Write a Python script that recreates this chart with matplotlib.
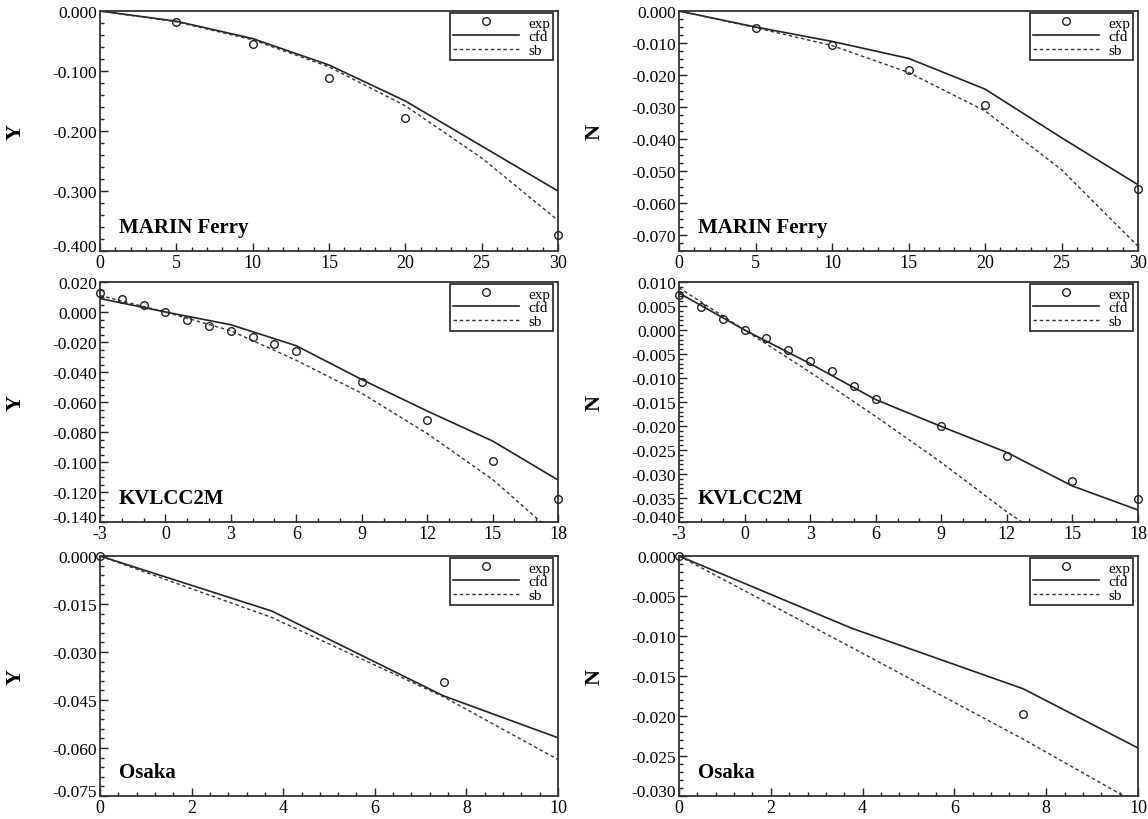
import numpy as np
import matplotlib
matplotlib.use("Agg")
import matplotlib.pyplot as plt
from matplotlib.ticker import MultipleLocator, FuncFormatter
from matplotlib.transforms import ScaledTranslation

plt.rcParams["font.family"] = ["Liberation Serif", "DejaVu Serif"]

# MARIN Ferry
ferry_x = [0, 5, 10, 15, 20, 25, 30]
ferry_exp_x = [5, 10, 15, 20, 30]
ferry_Y_exp = [-0.018, -0.055, -0.111, -0.178, -0.374]
ferry_Y_cfd = [0, -0.017, -0.046, -0.090, -0.150, -0.225, -0.300]
ferry_Y_sb = [0, -0.018, -0.048, -0.093, -0.158, -0.245, -0.349]
ferry_N_exp = [-0.0053, -0.0106, -0.0183, -0.0294, -0.0555]
ferry_N_cfd = [0, -0.0050, -0.0095, -0.0148, -0.0244, -0.0396, -0.0543]
ferry_N_sb = [0, -0.0052, -0.0108, -0.0192, -0.0312, -0.0496, -0.0735]

# KVLCC2M
kv_x = [-3, 0, 3, 6, 9, 12, 15, 18]
kv_exp_x = [-3, -2, -1, 0, 1, 2, 3, 4, 5, 6, 9, 12, 15, 18]
kv_Y_exp = [0.013, 0.0087, 0.0048, 0.0, -0.005, -0.009, -0.0129, -0.0168,
            -0.0213, -0.026, -0.0465, -0.072, -0.099, -0.1247]
kv_Y_cfd = [0.009, 0.0, -0.0085, -0.0225, -0.045, -0.066, -0.086, -0.112]
kv_Y_sb = [0.011, 0.0, -0.0125, -0.0322, -0.0542, -0.081, -0.1116, -0.150]
kv_N_exp = [0.0073, 0.0047, 0.0022, 0.0, -0.0016, -0.0042, -0.0064, -0.0086,
            -0.0116, -0.0143, -0.0199, -0.0262, -0.0315, -0.0352]
kv_N_cfd = [0.0077, 0.0, -0.0070, -0.0145, -0.0201, -0.0255, -0.0325, -0.0375]
kv_N_sb = [0.0088, 0.0, -0.0088, -0.0180, -0.0276, -0.0379, -0.0470, -0.0560]

# Osaka
os_x = [0, 3.75, 7.5, 10]
os_exp_x = [0, 7.5]
os_Y_exp = [0, -0.0393]
os_Y_cfd = [0, -0.0172, -0.0437, -0.0568]
os_Y_sb = [0, -0.0192, -0.0440, -0.0636]
os_N_exp = [0, -0.0197]
os_N_cfd = [0, -0.0090, -0.0166, -0.0240]
os_N_sb = [0, -0.0114, -0.0229, -0.0310]

panels = [
    # name, ylabel, x, exp_x, exp, cfd, sb, xlim, ylim, xmaj, xmin, ymaj, ymin
    ("MARIN Ferry", "Y", ferry_x, ferry_exp_x, ferry_Y_exp, ferry_Y_cfd, ferry_Y_sb,
     (0, 30), (-0.4, 0), 5, 1, 0.1, 0.02),
    ("MARIN Ferry", "N", ferry_x, ferry_exp_x, ferry_N_exp, ferry_N_cfd, ferry_N_sb,
     (0, 30), (-0.075, 0), 5, 1, 0.01, 0.0025),
    ("KVLCC2M", "Y", kv_x, kv_exp_x, kv_Y_exp, kv_Y_cfd, kv_Y_sb,
     (-3, 18), (-0.14, 0.02), 3, 1, 0.02, 0.005),
    ("KVLCC2M", "N", kv_x, kv_exp_x, kv_N_exp, kv_N_cfd, kv_N_sb,
     (-3, 18), (-0.04, 0.01), 3, 1, 0.005, 0.001),
    ("Osaka", "Y", os_x, os_exp_x, os_Y_exp, os_Y_cfd, os_Y_sb,
     (0, 10), (-0.075, 0), 2, 0.4, 0.015, 0.003),
    ("Osaka", "N", os_x, os_exp_x, os_N_exp, os_N_cfd, os_N_sb,
     (0, 10), (-0.03, 0), 2, 0.4, 0.005, 0.001),
]

W, H = 1148, 820
col_x = [(100, 458), (679, 459)]
row_y = [(12, 240), (283, 240), (557, 240)]

fig = plt.figure(figsize=(W / 100, H / 100), dpi=100)


def fmt3(v, pos):
    if abs(v) < 1e-12:
        v = 0.0
    return "%.3f" % v


def fmt_int(v, pos):
    return "%d" % round(v)


axes = []
for i, p in enumerate(panels):
    name, ylab, x, ex, ey, cfd, sb, xlim, ylim, xmaj, xmin, ymaj, ymin = p
    r, c = divmod(i, 2)
    px, pw = col_x[c]
    py, ph = row_y[r]
    ax = fig.add_axes([px / W, 1 - (py + ph) / H, pw / W, ph / H])
    axes.append(ax)

    ax.plot(ex, ey, "o", mfc="none", mec="#222222", ms=5.5, mew=1.0,
            clip_on=False, zorder=5, label="exp")
    ax.plot(x, cfd, "-", color="#222222", lw=1.2, label="cfd")
    ax.plot(x, sb, color="#333333", lw=1.0, ls=(0, (2.5, 2)), label="sb")

    ax.set_xlim(*xlim)
    ax.set_ylim(*ylim)
    ax.xaxis.set_major_locator(MultipleLocator(xmaj))
    ax.xaxis.set_minor_locator(MultipleLocator(xmin))
    ax.yaxis.set_major_locator(MultipleLocator(ymaj))
    ax.yaxis.set_minor_locator(MultipleLocator(ymin))
    ax.yaxis.set_major_formatter(FuncFormatter(fmt3))
    ax.xaxis.set_major_formatter(FuncFormatter(fmt_int))

    ax.tick_params(which="both", direction="in", top=False, right=False,
                   color="#222222", width=1.0)
    ax.tick_params(axis="x", labelsize=13)
    ax.tick_params(axis="y", labelsize=12.5)
    ax.tick_params(which="major", length=6, pad=2)
    ax.tick_params(which="minor", length=3)
    for s in ax.spines.values():
        s.set_linewidth(1.3)
        s.set_color("#333333")

    ax.set_ylabel(ylab, fontsize=16, fontweight="bold", rotation=90)
    ax.yaxis.set_label_coords(-0.162, 0.5)

    ax.text(0.041, 0.1, name, transform=ax.transAxes, fontsize=15,
            fontweight="bold", va="center", ha="left")

    leg = ax.legend(loc="upper right", bbox_to_anchor=(1 - 5 / pw, 1 - 2 / ph),
                    borderaxespad=0, fontsize=11, handlelength=4.3,
                    labelspacing=0.0, borderpad=0.2, handletextpad=0.6,
                    fancybox=False, framealpha=1)
    leg.get_frame().set_edgecolor("#333333")
    leg.get_frame().set_linewidth(1.3)

# lift the lowest y label a little so it clears the first x label
fig.canvas.draw()
for ax in axes:
    lo = ax.get_ylim()[0]
    for t in ax.yaxis.get_major_ticks():
        if abs(t.get_loc() - lo) < 1e-9:
            lab = t.label1
            lab.set_transform(lab.get_transform() +
                              ScaledTranslation(0, 4 / 72, fig.dpi_scale_trans))

fig.savefig("out.png", dpi=100)
